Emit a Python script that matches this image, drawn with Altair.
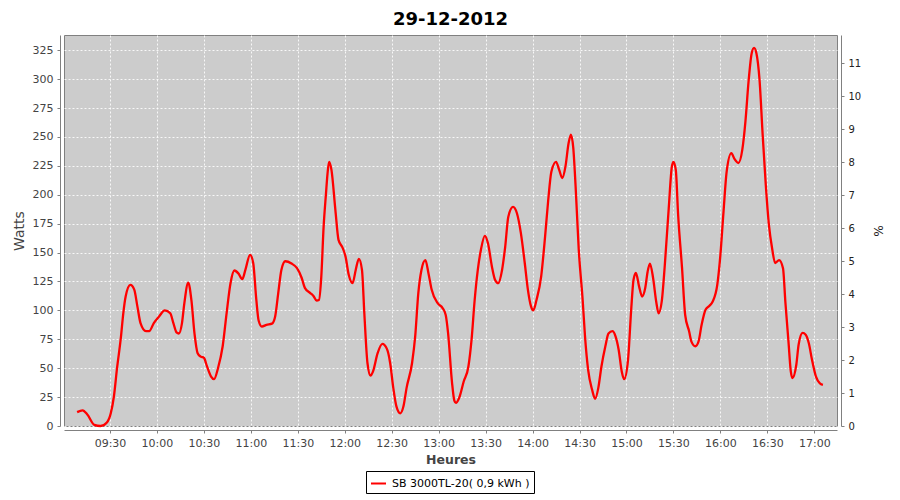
import altair as alt
import pandas as pd

TITLE = "29-12-2012"
SERIES = "SB 3000TL-20( 0,9 kWh )"

times = [
    "09:09:00", "09:12:30", "09:15:30", "09:20:00", "09:24:00", "09:28:00", "09:30:30", "09:32:30",
    "09:34:30", "09:37:00", "09:38:30", "09:40:00", "09:43:00", "09:45:30", "09:47:30", "09:49:30",
    "09:53:00", "09:55:00", "09:58:00", "10:01:30", "10:05:00", "10:08:30", "10:10:30", "10:12:30",
    "10:14:00", "10:16:00", "10:17:30", "10:20:00", "10:22:00", "10:24:00", "10:26:00", "10:28:00",
    "10:30:00", "10:32:00", "10:34:30", "10:36:30", "10:39:00", "10:42:00", "10:44:30", "10:47:00",
    "10:49:30", "10:52:00", "10:54:30", "10:56:30", "10:59:30", "11:01:30", "11:03:30", "11:05:00",
    "11:07:00", "11:10:00", "11:13:30", "11:15:30", "11:17:30", "11:19:30", "11:22:00", "11:26:00",
    "11:29:30", "11:32:30", "11:34:30", "11:38:00", "11:40:00", "11:42:00", "11:43:30", "11:45:00",
    "11:46:30", "11:48:00", "11:49:00", "11:50:00", "11:51:30", "11:54:00", "11:56:00", "11:58:30",
    "12:00:30", "12:02:30", "12:05:00", "12:07:00", "12:09:00", "12:11:00", "12:12:30", "12:14:30",
    "12:16:30", "12:18:00", "12:21:00", "12:24:00", "12:27:00", "12:29:00", "12:31:00", "12:33:00",
    "12:35:30", "12:37:30", "12:39:30", "12:43:00", "12:45:00", "12:47:00", "12:49:00", "12:51:30",
    "12:53:30", "12:55:30", "12:59:30", "13:02:30", "13:04:30", "13:06:00", "13:08:30", "13:10:00",
    "13:11:00", "13:13:00", "13:16:00", "13:19:00", "13:21:00", "13:23:00", "13:25:00", "13:27:00",
    "13:29:30", "13:31:30", "13:34:00", "13:36:00", "13:38:00", "13:40:30", "13:42:30", "13:44:30",
    "13:47:30", "13:50:00", "13:52:30", "13:55:00", "13:57:00", "13:59:00", "14:00:30", "14:02:30",
    "14:05:30", "14:08:00", "14:10:00", "14:12:00", "14:15:00", "14:17:00", "14:19:00", "14:21:00",
    "14:23:00", "14:24:30", "14:26:00", "14:27:30", "14:29:30", "14:32:00", "14:33:30", "14:35:30",
    "14:38:00", "14:40:00", "14:42:00", "14:44:00", "14:46:30", "14:48:30", "14:51:00", "14:53:00",
    "14:55:00", "14:57:00", "14:58:30", "15:01:00", "15:03:00", "15:04:30", "15:06:00", "15:08:00",
    "15:10:00", "15:12:00", "15:13:30", "15:15:00", "15:17:00", "15:19:00", "15:20:30", "15:22:30",
    "15:24:30", "15:27:00", "15:29:00", "15:30:00", "15:31:30", "15:33:00", "15:35:30", "15:37:30",
    "15:40:00", "15:41:30", "15:44:00", "15:46:00", "15:48:00", "15:50:30", "15:53:00", "15:55:00",
    "15:58:00", "16:00:00", "16:02:00", "16:04:00", "16:07:00", "16:09:00", "16:11:30", "16:14:00",
    "16:16:00", "16:18:00", "16:20:00", "16:21:30", "16:23:00", "16:25:00", "16:27:00", "16:29:00",
    "16:31:00", "16:33:00", "16:35:00", "16:37:30", "16:40:00", "16:41:30", "16:43:30", "16:45:00",
    "16:46:00", "16:48:30", "16:50:00", "16:52:30", "16:54:30", "16:56:30", "16:58:30", "17:01:00",
    "17:03:30", "17:05:30",
]

watts = [
    12, 13.5, 10, 1, 0, 3, 11, 25.5,
    50, 77, 97.5, 112, 122, 118, 103.5, 89,
    82, 82, 89, 95, 100, 97.5, 89, 81,
    80, 89, 106, 124, 109, 80, 63, 60,
    59, 51.5, 43, 40.5, 50, 69, 97.5, 123.5,
    134.5, 132, 127, 135, 148, 141, 109, 91,
    86, 87.5, 88.5, 94.5, 115, 135, 142.5, 140.5,
    136.5, 128, 119.5, 115, 112.5, 108.5, 109, 129,
    172.5, 201, 218.5, 228.5, 221.5, 187, 161, 154.5,
    146.5, 131, 123.5, 135, 144.5, 135, 97.5, 54.5,
    43.5, 47, 63, 71, 66.5, 54.5, 33, 17,
    11, 17, 33, 54.5, 77.5, 115, 135, 143.5,
    132, 118, 106, 102, 96, 80.5, 38, 22,
    20, 24, 38.5, 51.5, 74.5, 109, 135, 152.5,
    164.5, 158, 138, 126.5, 123.5, 135, 155, 181,
    189.5, 184, 167, 141, 118, 103.5, 100, 109,
    129.5, 164, 195.5, 220, 228.5, 221.5, 214.5, 224.5,
    244.5, 252, 240.5, 207, 152.5, 109, 77.5, 48.5,
    31.5, 23.5, 33, 51.5, 69, 80, 82, 77.5,
    66, 47, 40.5, 57.5, 100.5, 126.5, 132.5, 121,
    112, 119.5, 133.5, 140.5, 128, 107.5, 97.5, 107.5,
    139.5, 188.5, 224.5, 228.5, 221.5, 182.5, 136.5, 96,
    82, 73, 69, 73, 87.5, 100.5, 104, 107.5,
    122, 148, 185.5, 220, 236, 231, 227.5, 239,
    263.5, 298, 322.5, 327, 322.5, 299.5, 252, 208.5,
    174, 154, 141, 143.5, 136.5, 107.5, 73, 47,
    41.5, 53, 70.5, 80.5, 79, 71.5, 57.5, 43,
    37, 35.5,
]

x_ticks = ["09:30", "10:00", "10:30", "11:00", "11:30", "12:00", "12:30", "13:00",
           "13:30", "14:00", "14:30", "15:00", "15:30", "16:00", "16:30", "17:00"]
watts_ticks = list(range(0, 326, 25))
pct_ticks = list(range(0, 12))
WATTS_PER_PCT = 28.52
Y_MAX = 338.2


def dt(hms):
    parts = [int(p) for p in hms.split(":")]
    while len(parts) < 3:
        parts.append(0)
    return alt.DateTime(year=2012, month=12, date=29, hours=parts[0], minutes=parts[1], seconds=parts[2])


df = pd.DataFrame({
    "time": ["2012-12-29T" + t for t in times],
    "watts": watts,
    "series": [SERIES] * len(times),
})

FONT = "DejaVu Sans"

x_enc = alt.X(
    "time:T",
    scale=alt.Scale(domain=[dt("09:00:37"), dt("17:14:30")], nice=False),
    axis=alt.Axis(title="Heures", format="%H:%M", values=[dt(t) for t in x_ticks],
                  offset=4, tickSize=3, labelPadding=4, labelFontSize=11, labelColor="#444444",
                  titleFontSize=12.5, titleFontWeight="bold", titleColor="#444444", titlePadding=5,
                  domainColor="#808080", tickColor="#808080",
                  grid=True, gridColor="#ffffff", gridDash=[2, 2], gridOpacity=0.85),
)

line = alt.Chart(df).mark_line(strokeWidth=2.3, interpolate="monotone").encode(
    x=x_enc,
    y=alt.Y("watts:Q",
            scale=alt.Scale(domain=[0, Y_MAX], nice=False, zero=True),
            axis=alt.Axis(title="Watts", values=watts_ticks, offset=4, tickSize=3, labelPadding=4,
                          labelFontSize=11, labelColor="#444444", titleFontSize=14, titleFontWeight="normal",
                          titleColor="#444444", titlePadding=6, domainColor="#808080", tickColor="#808080",
                          grid=True, gridColor="#ffffff", gridDash=[2, 2], gridOpacity=0.85)),
    color=alt.Color("series:N",
                    scale=alt.Scale(domain=[SERIES], range=["#ff0000"]),
                    legend=alt.Legend(title=None, orient="none", legendX=302, legendY=436,
                                      symbolType="stroke", symbolSize=225, symbolStrokeWidth=2,
                                      labelFontSize=11, labelColor="#000000", labelOffset=5,
                                      strokeColor="#000000", padding=4, fillColor="#ffffff")),
)

right = alt.Chart(df).transform_calculate(
    pct=f"datum.watts / {WATTS_PER_PCT}"
).mark_line(opacity=0).encode(
    x=x_enc,
    y=alt.Y("pct:Q",
            scale=alt.Scale(domain=[0, Y_MAX / WATTS_PER_PCT], nice=False, zero=True),
            axis=alt.Axis(title="%", orient="right", values=pct_ticks, offset=4, tickSize=3, labelPadding=4,
                          labelFontSize=10, labelColor="#222222", titleFontSize=12, titleFontWeight="normal",
                          titleColor="#222222", titlePadding=10, domainColor="#808080", tickColor="#808080",
                          grid=False)),
)

chart = alt.layer(line, right).resolve_scale(y="independent").properties(
    width=773,
    height=391,
    title=alt.TitleParams(TITLE, fontSize=18, fontWeight="bold", font=FONT, color="#000000",
                          anchor="middle", offset=6),
    autosize=alt.AutoSizeParams(type="none"),
    padding={"left": 56, "top": 27, "right": 55, "bottom": 68},
).configure(
    font=FONT,
).configure_view(
    fill="#cccccc", stroke="#808080", strokeWidth=1,
)

chart.save("out.html", embed_options={"renderer": "svg", "actions": False})
